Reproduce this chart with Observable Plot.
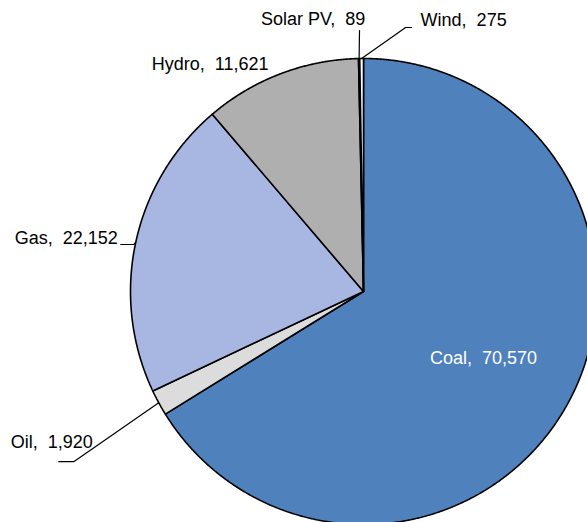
<!DOCTYPE html>
<html>
<head>
<meta charset="utf-8">
<script src="https://cdn.jsdelivr.net/npm/d3@7"></script>
<script src="https://cdn.jsdelivr.net/npm/@observablehq/plot@0.6"></script>
<style>
  html, body { margin: 0; padding: 0; background: #fff; }
  #chart svg { display: block; }
</style>
</head>
<body>
<div id="chart"></div>
<script>
// ---- Data ----
const sources = ["Coal", "Oil", "Gas", "Hydro", "Solar PV", "Wind"];
const values = [70570, 1920, 22152, 11621, 89, 275];
const colors = ["#4F81BD", "#DCDCDC", "#A7B7E2", "#AFAFAF", "#FFFFFF", "#FFFFFF"];

// ---- Layout (pixel offsets from the slice's outer mid-point) ----
const R = 233;
const labelLayout = {
  "Coal":     {inside: 0.59, anchor: "middle"},
  "Oil":      {text: [-66, 40], anchor: "end", leader: [[-85, 59], [-100, 59]]},
  "Gas":      {text: [-18, -4], anchor: "end", leader: [[-2, 2], [-15, 2]]},
  "Hydro":    {text: [-12, -10], anchor: "end"},
  "Solar PV": {text: [-46, -39], anchor: "middle", leader: [[0.4, -28]]},
  "Wind":     {text: [59, -38], anchor: "start", leader: [[44, -31], [50, -31]]}
};

const data = sources.map((s, i) => ({name: s, value: values[i]}));
const arcs = d3.pie().value(d => d.value).sort(null)(data);

// Slice polygons (angle measured clockwise from 12 o'clock; y downward)
const polys = [];
arcs.forEach(a => {
  const name = a.data.name;
  polys.push({name, x: 0, y: 0});
  const n = Math.max(2, Math.ceil((a.endAngle - a.startAngle) / 0.004));
  for (let k = 0; k <= n; k++) {
    const t = a.startAngle + (a.endAngle - a.startAngle) * k / n;
    polys.push({name, x: R * Math.sin(t), y: -R * Math.cos(t)});
  }
  polys.push({name, x: 0, y: 0});
});

const fmt = d3.format(",");
const labels = [];
const leaders = [];
arcs.forEach(a => {
  const name = a.data.name;
  const lay = labelLayout[name];
  const mid = (a.startAngle + a.endAngle) / 2;
  const ex = R * Math.sin(mid), ey = -R * Math.cos(mid);
  const text = `${name},\u00a0 ${fmt(a.data.value)}`;
  if (lay.inside) {
    labels.push({name, text, anchor: lay.anchor, x: ex * lay.inside, y: ey * lay.inside, fill: "white"});
  } else {
    labels.push({name, text, anchor: lay.anchor, x: ex + lay.text[0], y: ey + lay.text[1], fill: "black"});
    if (lay.leader) {
      leaders.push({name, x: ex, y: ey});
      lay.leader.forEach(p => leaders.push({name, x: ex + p[0], y: ey + p[1]}));
    }
  }
});

const W = 587, H = 522, CX = 363, CY = 291;
const font = "'Liberation Sans', Arial, sans-serif";

const textMark = anchor => Plot.text(labels.filter(d => d.anchor === anchor), {
  x: "x", y: "y", text: "text", fill: "fill", textAnchor: anchor,
  fontSize: 18, fontFamily: font
});

const chart = Plot.plot({
  width: W, height: H,
  margin: 0,
  x: {type: "linear", domain: [-CX, W - CX], range: [0, W], axis: null},
  y: {type: "linear", domain: [-CY, H - CY], range: [0, H], axis: null},
  color: {domain: sources, range: colors},
  style: {background: "white"},
  marks: [
    Plot.line(polys, {x: "x", y: "y", z: "name", fill: "name", stroke: "black", strokeWidth: 1.6, strokeLinejoin: "miter", curve: "linear"}),
    Plot.line(leaders, {x: "x", y: "y", z: "name", stroke: "black", strokeWidth: 1.2}),
    textMark("start"), textMark("middle"), textMark("end")
  ]
});
document.getElementById("chart").appendChild(chart);
</script>
</body>
</html>
